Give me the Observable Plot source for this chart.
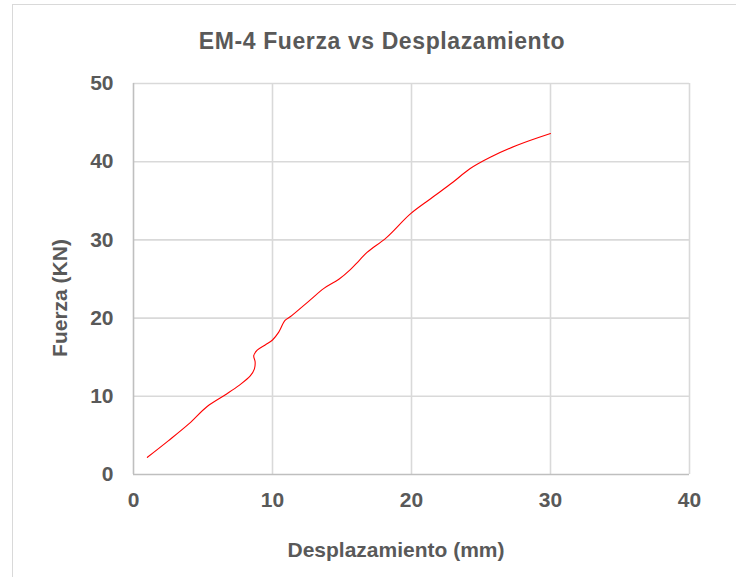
<!DOCTYPE html>
<html><head><meta charset="utf-8">
<script src="https://cdn.jsdelivr.net/npm/d3@7"></script>
<script src="https://cdn.jsdelivr.net/npm/@observablehq/plot@0.6"></script>
<style>
body{margin:0;background:#fff;font-family:"Liberation Sans",Arial,sans-serif;}
#wrap{position:relative;width:736px;height:577px;overflow:hidden;}
#frame{position:absolute;left:12px;top:4px;width:740px;height:600px;border:1px solid #d9d9d9;box-sizing:border-box;}
.t{position:absolute;color:#595959;font-weight:bold;white-space:nowrap;line-height:1;}
</style></head>
<body><div id="wrap"><div id="frame"></div></div>
<script>
const displacement = [1.0, 2.5, 4.0, 5.3, 6.7, 7.6, 8.4, 8.7, 8.75, 8.65, 8.9, 9.5, 10.0, 10.45, 10.9, 11.3, 12.7, 13.7, 14.8, 15.6, 16.2, 16.8, 18.2, 19.9, 21.4, 23.0, 24.2, 25.7, 27.6, 30.0];
const force =        [2.2, 4.3, 6.5, 8.7, 10.3, 11.4, 12.6, 13.5, 14.4, 15.2, 15.9, 16.6, 17.2, 18.2, 19.7, 20.2, 22.3, 23.8, 25.0, 26.2, 27.3, 28.4, 30.3, 33.3, 35.3, 37.4, 39.1, 40.6, 42.1, 43.6];
const xTicks = [0, 10, 20, 30, 40];
const yTicks = [0, 10, 20, 30, 40, 50];
const data = displacement.map((d, i) => ({x: d, y: force[i]}));

const chart = Plot.plot({
  width: 736, height: 577,
  marginLeft: 133, marginRight: 47, marginTop: 83, marginBottom: 103,
  style: {background: "transparent", fontFamily: "Liberation Sans, Arial, sans-serif"},
  x: {domain: [0, 40], ticks: xTicks, label: null, tickSize: 0, tickPadding: 0},
  y: {domain: [0, 50], ticks: yTicks, label: null, tickSize: 0, tickPadding: 0},
  marks: [
    Plot.ruleX(xTicks.slice(1), {stroke: "#d9d9d9", strokeWidth: 1.6}),
    Plot.ruleY(yTicks.slice(1), {stroke: "#d9d9d9", strokeWidth: 1.6}),
    Plot.ruleX([0], {stroke: "#bfbfbf", strokeWidth: 1.6}),
    Plot.ruleY([0], {stroke: "#bfbfbf", strokeWidth: 1.6}),
    Plot.axisX({ticks: xTicks, tickSize: 0, tickPadding: 18, fontSize: 21, fontWeight: "bold", fill: "#595959", label: null}),
    Plot.axisY({ticks: yTicks, tickSize: 0, tickPadding: 20, fontSize: 21, fontWeight: "bold", fill: "#595959", label: null}),
    Plot.line(data, {x: "x", y: "y", stroke: "#ff0000", strokeWidth: 1.1, curve: "catmull-rom"})
  ]
});
chart.style.position = "absolute";
chart.style.left = "0px";
chart.style.top = "0px";
const wrap = document.getElementById("wrap");
wrap.appendChild(chart);

function label(text, x, y, size, rot, spacing) {
  const d = document.createElement("div");
  d.className = "t";
  d.textContent = text;
  d.style.fontSize = size + "px";
  if (spacing) d.style.letterSpacing = spacing + "px";
  d.style.left = x + "px";
  d.style.top = y + "px";
  d.style.transform = "translate(-50%,-50%)" + (rot ? " rotate(-90deg)" : "");
  wrap.appendChild(d);
}
label("EM-4 Fuerza vs Desplazamiento", 382, 41, 23, false, 0.6);
label("Desplazamiento (mm)", 396, 549, 21, false);
label("Fuerza (KN)", 59, 298, 21, true);
</script>
</body></html>
